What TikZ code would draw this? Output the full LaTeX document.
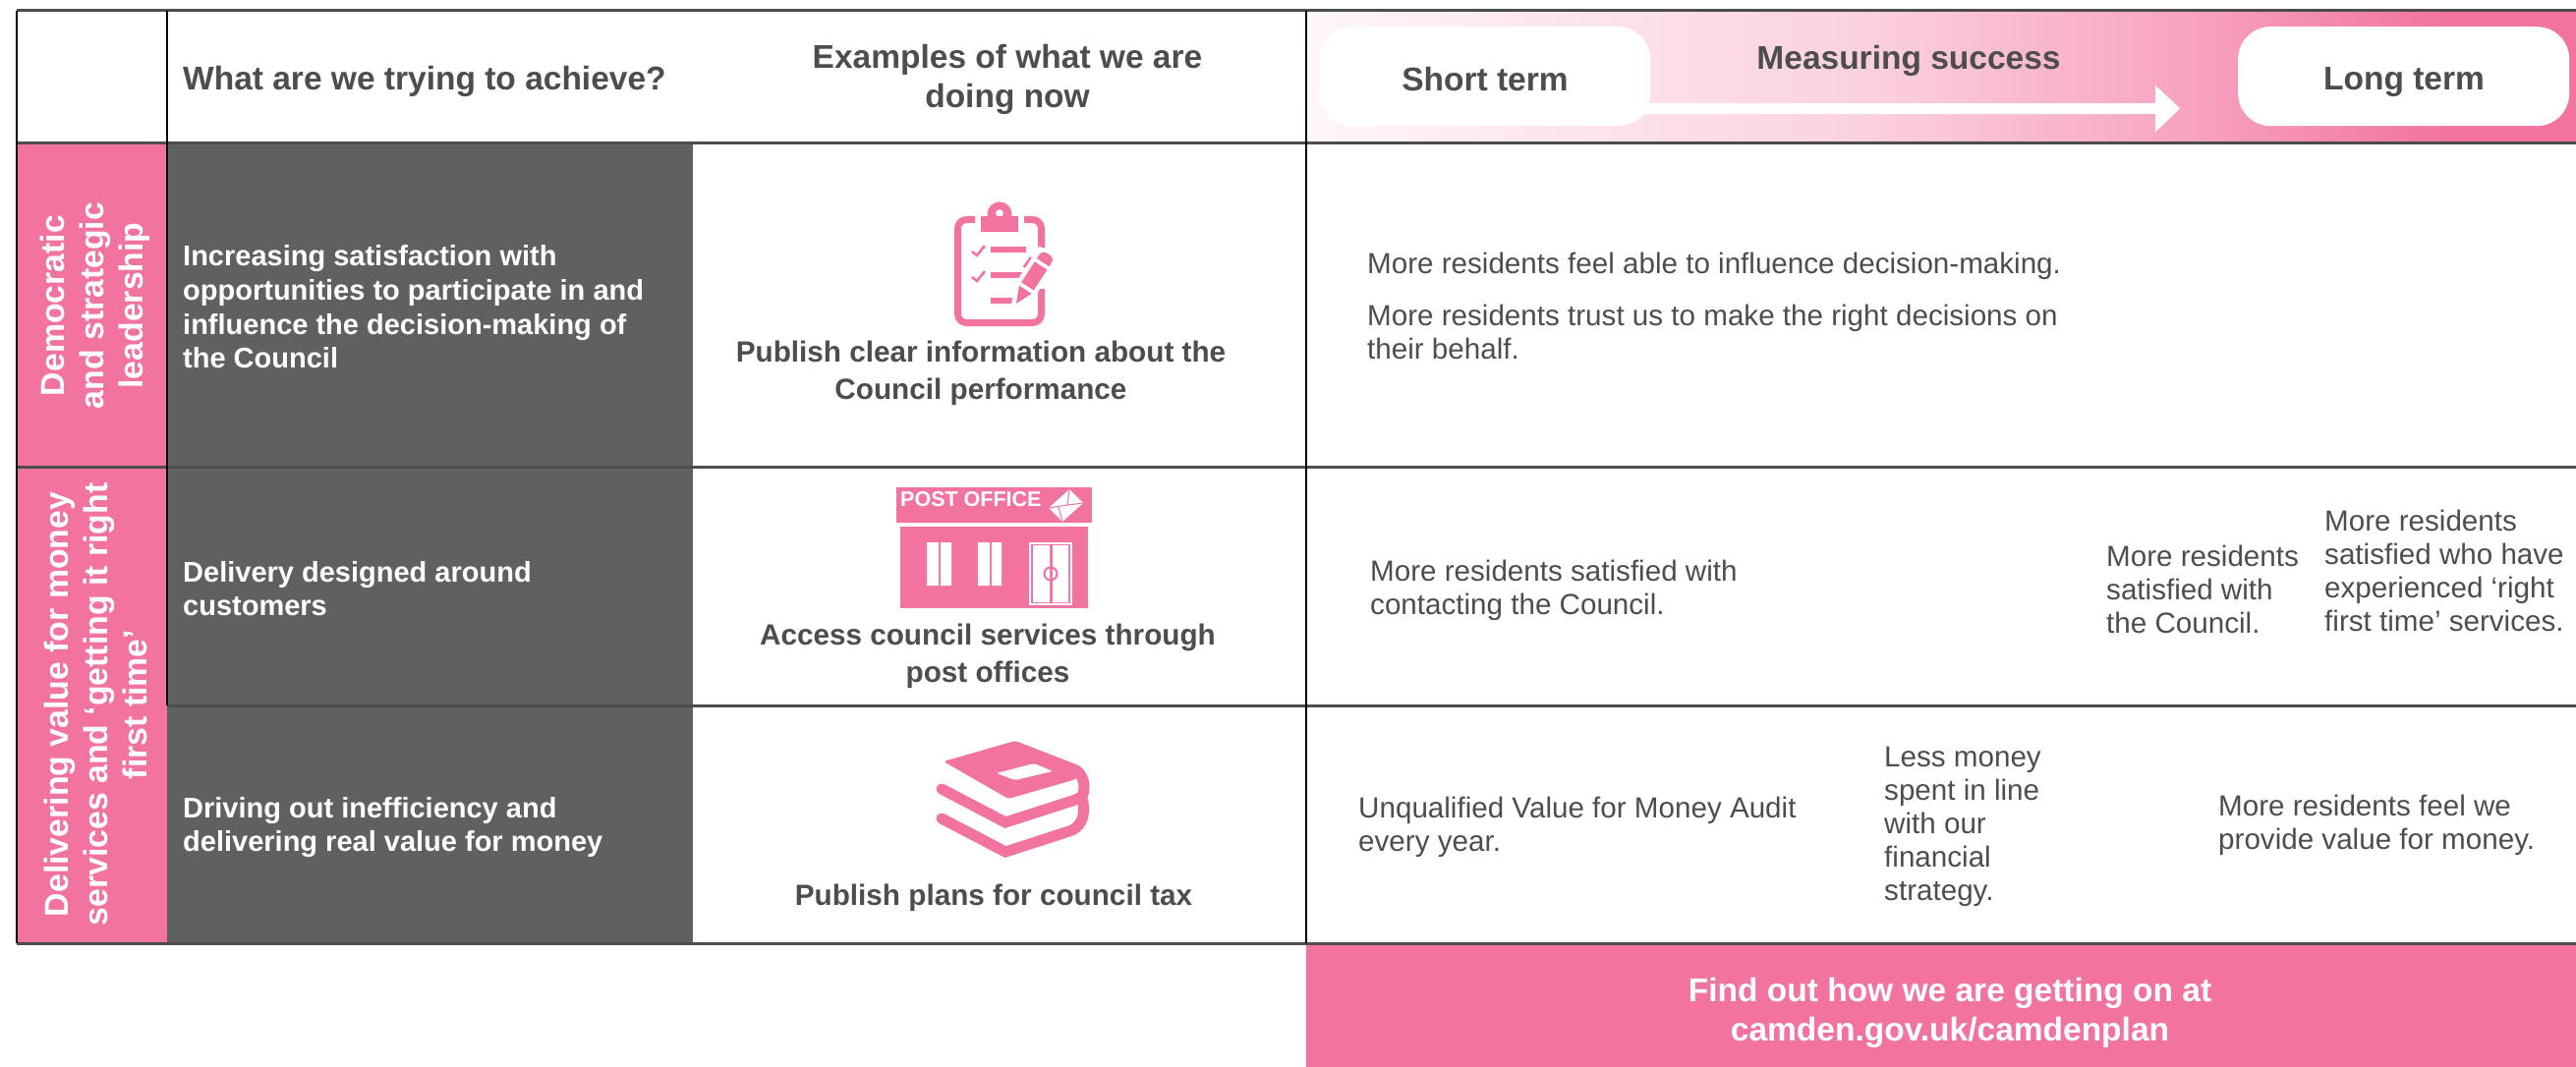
\documentclass[tikz,border=0pt]{standalone}
\usepackage{fontspec}
\setmainfont{Liberation Sans}
\usetikzlibrary{arrows.meta}
\usetikzlibrary{positioning}
\definecolor{camdenpink}{HTML}{F272A0}
\definecolor{slategrey}{HTML}{5F6062}
\definecolor{inkgrey}{HTML}{4D4D4F}
\colorlet{fadeA}{camdenpink!6}
\colorlet{fadeB}{camdenpink!33}
\colorlet{fadeC}{camdenpink!66}
\pgfdeclarehorizontalshading{headfade}{100bp}{color(0bp)=(fadeA); color(25bp)=(fadeA); color(47bp)=(fadeB); color(60bp)=(fadeC); color(70bp)=(camdenpink); color(100bp)=(camdenpink)}
\tikzset{
    cell/.style={
           rectangle,
           inner sep=0pt,
           outer sep=0pt,
           },
    goalcell/.style={
           cell,
           fill=slategrey,
           minimum width=535pt,
           },
    goaltext/.style={
           text=white,
           font=\fontsize{29}{34.6}\selectfont\bfseries,
           align=left,
           inner sep=0pt,
           anchor=west,
           },
    rule/.style={draw=inkgrey, line width=3pt},
    blackrule/.style={draw=black, line width=2.5pt},
    heading/.style={
           text=inkgrey,
           font=\fontsize{33.5}{40}\selectfont\bfseries,
           align=center,
           inner sep=0pt,
           },
    sidetext/.style={
           text=white,
           font=\fontsize{33.8}{40}\selectfont\bfseries,
           align=center,
           inner sep=0pt,
           rotate=90,
           },
    example/.style={
           text=inkgrey,
           font=\fontsize{29.7}{38}\selectfont\bfseries,
           align=center,
           inner sep=0pt,
           },
    result/.style={
           text=inkgrey,
           font=\fontsize{29.6}{34}\selectfont,
           align=left,
           inner sep=0pt,
           anchor=west,
           },
    timebox/.style={
           fill=white,
           rounded corners=33pt,
           minimum width=337pt,
           minimum height=101pt,
           anchor=north west,
           },
}

\begin{document}
\begin{tikzpicture}[x=1pt,y=-1pt]
 \useasboundingbox (0,0) rectangle (2621,1086);

 % header row
 \node[cell,minimum width=153pt,minimum height=135pt,anchor=north west] (Head Blank) at (17,11) {};
 \node[cell,minimum width=535pt,minimum height=135pt,right=0pt of Head Blank] (Head Goal) {};
 \node[cell,minimum width=624pt,minimum height=135pt,right=0pt of Head Goal] (Head Examples) {};
 \node[cell,minimum width=1292pt,minimum height=135pt,right=0pt of Head Examples,shading=headfade] (Head Measure) {};

 % first row
 \node[cell,fill=camdenpink,minimum width=153pt,minimum height=329pt,below=0pt of Head Blank] (Side Leadership) {};
 \node[goalcell,minimum height=329pt,right=0pt of Side Leadership] (Goal Satisfaction) {};
 \node[cell,minimum width=624pt,minimum height=329pt,right=0pt of Goal Satisfaction] (Example Publish) {};
 \node[cell,minimum width=1292pt,minimum height=329pt,right=0pt of Example Publish] (Result Leadership) {};

 % second and third row, the side cell spans both
 \node[cell,fill=camdenpink,minimum width=153pt,minimum height=485pt,below=0pt of Side Leadership] (Side Value) {};
 \node[goalcell,minimum height=243pt,below=0pt of Goal Satisfaction] (Goal Delivery) {};
 \node[goalcell,minimum height=242pt,below=0pt of Goal Delivery] (Goal Inefficiency) {};
 \node[cell,minimum width=624pt,minimum height=243pt,right=0pt of Goal Delivery] (Example Post) {};
 \node[cell,minimum width=624pt,minimum height=242pt,right=0pt of Goal Inefficiency] (Example Tax) {};
 \node[cell,minimum width=1292pt,minimum height=243pt,right=0pt of Example Post] (Result Delivery) {};
 \node[cell,minimum width=1292pt,minimum height=242pt,right=0pt of Example Tax] (Result Value) {};

 % footer
 \node[cell,fill=camdenpink,minimum width=1292pt,minimum height=126pt,below=0pt of Result Value] (Find Out) {};
 \node[text=white,align=center,inner sep=0pt,font=\fontsize{33.5}{40}\selectfont\bfseries] (Find Text) at (1984,1031)
 {Find out how we are getting on at\\camden.gov.uk/camdenplan};

 % table rules
 \draw[rule] (Head Blank.north west) -- (Head Measure.north east);
 \draw[rule] (Head Blank.south west) -- (Head Measure.south east);
 \draw[rule] (Side Leadership.south west) -- (Result Leadership.south east);
 \draw[rule] (Goal Delivery.south west) -- (Result Delivery.south east);
 \draw[rule] (Side Value.south west) -- (Result Value.south east);
 \draw[blackrule] (Head Blank.north west) -- (Side Value.south west);
 \draw[blackrule] (Head Blank.north east) -- (Goal Delivery.south west);
 \draw[blackrule] (Head Measure.north west) -- (Result Value.south west);

 % header texts
 \node[heading,right=16pt of Head Goal.west,yshift=-4pt] (Goal Title) {What are we trying to achieve?};
 \node[heading] (Examples Title) at (1025,81) {Examples of what we are\\doing now};
 \node[timebox] (Short term) at (1342,27) {};
 \node[timebox] (Long term) at (2277,27) {};
 \node[heading] (Short Title) at (1511,81) {Short term};
 \node[heading] (Long Title) at (2446,84) {Long term};
 \node[heading] (Measuring) at (1942,62) {Measuring success};
 \coordinate (Arrow End) at (2218,110.5);
 \draw[white,line width=11pt,-{Triangle[length=25pt,width=46pt]}] ([xshift=-10pt,yshift=-33pt]Short term.east) -- (Arrow End);

 % side texts
 \node[sidetext] (Leadership Text) at (97,311) {Democratic\\and strategic\\leadership};
 \node[sidetext] (Value Text) at (97,717) {Delivering value for money\\services and ‘getting it right\\first time’};

 % goal texts
 \node[goaltext] (Satisfaction Text) at (186,312.5) {Increasing satisfaction with\\opportunities to participate in and\\influence the decision-making of\\the Council};
 \node[goaltext] (Delivery Text) at (186,599) {Delivery designed around\\customers};
 \node[goaltext] (Inefficiency Text) at (186,842) {Driving out inefficiency and\\delivering real value for money};

 % example texts
 \node[example] (Publish Text) at (998,380) {Publish clear information about the\\Council performance};
 \node[example] (Post Text) at (1005,668) {Access council services through\\post offices};
 \node[example] (Tax Text) at (1011,914) {Publish plans for council tax};

 % measures
 \node[result] (Influence) at (1391,271) {More residents feel able to influence decision-making.};
 \node[result] (Trust) at (1391,338) {More residents trust us to make the right decisions on\\their behalf.};
 \node[result] (Contacting) at (1394,601) {More residents satisfied with\\contacting the Council.};
 \node[result] (Satisfied) at (2143,600) {More residents\\satisfied with\\the Council.};
 \node[result] (Right First) at (2365,581) {More residents\\satisfied who have\\experienced ‘right\\first time’ services.};
 \node[result] (Audit) at (1382,842) {Unqualified Value for Money Audit\\every year.};
 \node[result] (Less Money) at (1917,841) {Less money\\spent in line\\with our\\financial\\strategy.};
 \node[result] (Value Money) at (2257,840) {More residents feel we\\provide value for money.};

 % clipboard icon
 \draw[camdenpink,line width=7pt,rounded corners=9pt] (992,223.5) -- (974.5,223.5) -- (974.5,328.5) -- (1059.5,328.5) -- (1059.5,294);
 \draw[camdenpink,line width=7pt,rounded corners=9pt] (1042,223.5) -- (1059.5,223.5) -- (1059.5,252);
 \fill[camdenpink] (998,220) rectangle (1036,236);
 \fill[camdenpink,even odd rule] (1017,218) circle (12.5) (1017,217) circle (4);
 \draw[camdenpink,line width=2.6pt] (989,256) -- (994,260) -- (1002,250);
 \draw[camdenpink,line width=2.6pt] (989,282) -- (994,286) -- (1002,276);
 \fill[camdenpink] (1008,251) rectangle (1044,257);
 \fill[camdenpink] (1008,277) rectangle (1040,283);
 \fill[camdenpink] (1008,303) rectangle (1032,309);
 \draw[camdenpink,line width=3pt] (1042,272) -- (1049,262);
 \begin{scope}[shift={(1034,309)},rotate=57]
  \fill[white] (-3,-4) -- (17,-12) -- (62,-12) -- (62,12) -- (17,12) -- (-3,4) -- cycle;
  \fill[camdenpink] (0,0) -- (17,-7.5) -- (17,7.5) -- cycle;
  \fill[camdenpink] (21,-7.5) rectangle (46,7.5);
  \fill[camdenpink,rounded corners=5pt] (50,-7.5) -- (60,-7.5) -- (60,7.5) -- (50,7.5) -- cycle;
  \fill[camdenpink] (50,-7.5) rectangle (54,7.5);
 \end{scope}

 % post office icon
 \fill[camdenpink] (912,496) rectangle (1111,532);
 \fill[camdenpink] (916,536) rectangle (1107,619);
 \node[text=white,inner sep=0pt,anchor=west,font=\fontsize{21.5}{21.5}\selectfont\bfseries] (Post Sign) at (916,508) {POST OFFICE};
 \fill[white] (943,552) rectangle (955,596) (957,552) rectangle (968,596);
 \fill[white] (995,552) rectangle (1007,596) (1009,552) rectangle (1019,596);
 \fill[white] (1047,552) rectangle (1091,616);
 \fill[camdenpink] (1049,554) rectangle (1089,614);
 \fill[white] (1051,555) rectangle (1068,613) (1071,555) rectangle (1087,613);
 \draw[camdenpink,line width=2pt] (1069,584) circle (6.5);
 \fill[white] (1088,498) -- (1102,512) -- (1081,531) -- (1067,517) -- cycle;
 \draw[camdenpink,line width=1pt] (1067,517) -- (1086,514) -- (1088,498) (1086,514) -- (1102,512) (1077,516) -- (1081,531);

 % books icon
 \fill[camdenpink,rounded corners=3pt] (960,775) -- (1033,754) -- (1100,780) -- (1095,793) -- (1026,813) -- cycle;
 \draw[camdenpink,line width=11pt] (1095,784) .. controls (1104,790) and (1105,805) .. (1100,812);
 \draw[camdenpink,line width=11pt,line cap=round] (958,803) -- (1023,837) -- (1088,816) .. controls (1098,813) and (1100,812) .. (1102,808);
 \draw[camdenpink,line width=11pt,line cap=round] (958,833) -- (1023,867) -- (1088,846) .. controls (1104,841) and (1105,822) .. (1100,811);
 \fill[white,rounded corners=2pt] (1014,787) -- (1052,777) -- (1071,785) -- (1033,794) -- cycle;

\end{tikzpicture}
\end{document}
